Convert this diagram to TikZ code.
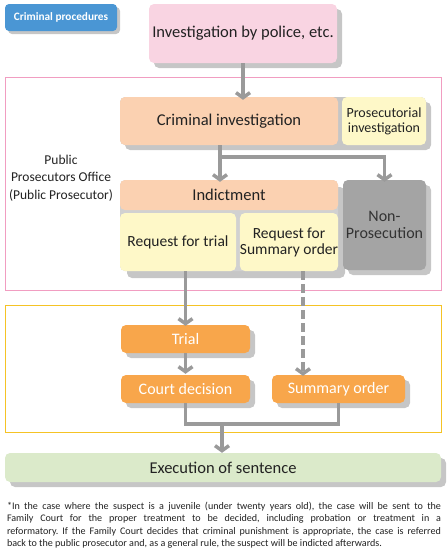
\documentclass[tikz,border=0pt]{standalone}
\usepackage{fontspec}
\setmainfont{Carlito}
\usetikzlibrary{arrows.meta,shadows}
\definecolor{badgeblue}{HTML}{4A96D4}
\definecolor{pinkbox}{HTML}{F9D4E2}
\definecolor{pinkframe}{HTML}{F19DC1}
\definecolor{peach}{HTML}{FBD1B1}
\definecolor{paleyellow}{HTML}{FEF8C8}
\definecolor{stonegray}{HTML}{A4A4A4}
\definecolor{arrowgray}{HTML}{9A9A9A}
\definecolor{shadowgray}{HTML}{C6C6C6}
\definecolor{orangebox}{HTML}{F8A64B}
\definecolor{goldframe}{HTML}{F5C325}
\definecolor{palegreen}{HTML}{DBEACA}
\definecolor{inkgray}{HTML}{222222}

\tikzset{
	box/.style={rounded corners=5pt, inner sep=0pt, align=center, text=inkgray, font=\fontsize{16.5}{17}\selectfont},
	shadowed/.style={drop shadow={shadow xshift=5pt, shadow yshift=-5pt, fill=shadowgray, opacity=1}},
	courtbox/.style={box, shadowed, fill=orangebox, text=white, minimum height=28pt, font=\fontsize{16}{17}\selectfont},
	flowline/.style={draw=arrowgray, line width=3.5pt},
	flow/.style={flowline, -{Straight Barb[length=5pt, width=14pt]}, shorten >=2pt},
}

\begin{document}
\begin{tikzpicture}[x=1pt, y=-1pt]
		%%%%% START %%%%%
		\useasboundingbox (0, 0) rectangle (447, 552);
		
		\draw[line width=0.8pt, color=pinkframe] (5, 77) rectangle (441, 290);
		\draw[line width=0.8pt, color=goldframe] (5, 305) rectangle (441, 432);
		
		\node[rounded corners=4pt, inner sep=0pt, fill=badgeblue, text=white, minimum width=112pt, minimum height=27pt,
			font=\fontsize{11.3}{12}\selectfont\bfseries,
			drop shadow={shadow xshift=3pt, shadow yshift=-3pt, fill=shadowgray, opacity=1}] (badge) at (61, 17.5) {Criminal procedures};
		
		\node[box, shadowed, fill=pinkbox, minimum width=188pt, minimum height=59pt] (police) at (243, 33.5) {Investigation by police, etc.};
		
		\node[align=center, text=inkgray, font=\fontsize{13.5}{17.5}\selectfont] (office) at (61, 178) {Public\\Prosecutors Office\\(Public Prosecutor)};
		
		\fill[shadowgray, rounded corners=5pt] (125, 102) rectangle (431, 150);
		\fill[shadowgray, rounded corners=5pt] (120, 97) rectangle (426, 145);
		\node[box, fill=peach, minimum width=218pt, minimum height=48pt] (crim) at (229, 121) {Criminal investigation};
		\node[box, fill=paleyellow, minimum width=84pt, minimum height=48pt, font=\fontsize{14}{15}\selectfont] (prosec) at (384, 121) {Prosecutorial\\investigation};
		
		\fill[shadowgray, rounded corners=5pt] (127, 187) rectangle (345, 278);
		\fill[shadowgray!80, rounded corners=5pt] (120, 180) rectangle (338, 271);
		\node[box, fill=peach, minimum width=218pt, minimum height=30pt] (indict) at (229, 195) {Indictment};
		\node[box, fill=paleyellow, minimum width=116pt, minimum height=58pt, font=\fontsize{15.5}{16}\selectfont] (reqtrial) at (178, 242) {Request for trial};
		\node[box, fill=paleyellow, minimum width=98pt, minimum height=58pt, font=\fontsize{15.5}{16}\selectfont] (reqsum) at (289, 242) {Request for\\Summary order};
		
		\node[box, shadowed, fill=stonegray, text=black!80, minimum width=83pt, minimum height=90pt, font=\fontsize{16}{17}\selectfont] (nonpros) at (384.5, 225) {Non-\\Prosecution};
		
		\node[courtbox, minimum width=129pt] (trial) at (185.5, 339) {Trial};
		\node[courtbox, minimum width=129pt] (court) at (185.5, 389) {Court decision};
		\node[courtbox, minimum width=133pt] (sumorder) at (338.5, 389) {Summary order};
		
		\node[box, shadowed, fill=palegreen, minimum width=436pt, minimum height=29pt, font=\fontsize{16.5}{17}\selectfont] (exec) at (223, 467.5) {Execution of sentence};
		
		\node[text width=434pt, inner sep=0pt, align=justify, text=inkgray, font=\fontsize{10.1}{12.4}\selectfont\frenchspacing] (note) at (224, 525)
			{*In the case where the suspect is a juvenile (under twenty years old), the case will be sent to the\linebreak
			Family Court for the proper treatment to be decided, including probation or treatment in a\linebreak
			reformatory. If the Family Court decides that criminal punishment is appropriate, the case is referred\linebreak
			back to the public prosecutor and, as a general rule, the suspect will be indicted afterwards.};
		
		% arrows
		\coordinate (split) at (220, 157);
		\coordinate (dashx) at (303, 0);
		\coordinate (merge) at (222, 424);
		
		\draw[flow] (police.south) -- ([yshift=-5pt]police.south |- crim.north);
		\draw[flow] (split |- crim.south) -- ([yshift=-4pt]split |- indict.north);
		\draw[flow] (split) -| ([yshift=-4pt]nonpros.north);
		\draw[flow] (trial.north |- reqtrial.south) -- ([yshift=-3pt]trial.north);
		\draw[flow, dash pattern=on 9pt off 4pt] (dashx |- reqsum.south) -- ([yshift=-3pt]dashx |- sumorder.north);
		\draw[flow] (trial.south) -- ([yshift=-1pt]court.north);
		\draw[flowline] (court.south) |- (merge) -| (sumorder.south);
		\draw[flow] (merge) -- ([yshift=-2pt]merge |- exec.north);
		%%%%% END %%%%%
\end{tikzpicture}
\end{document}
